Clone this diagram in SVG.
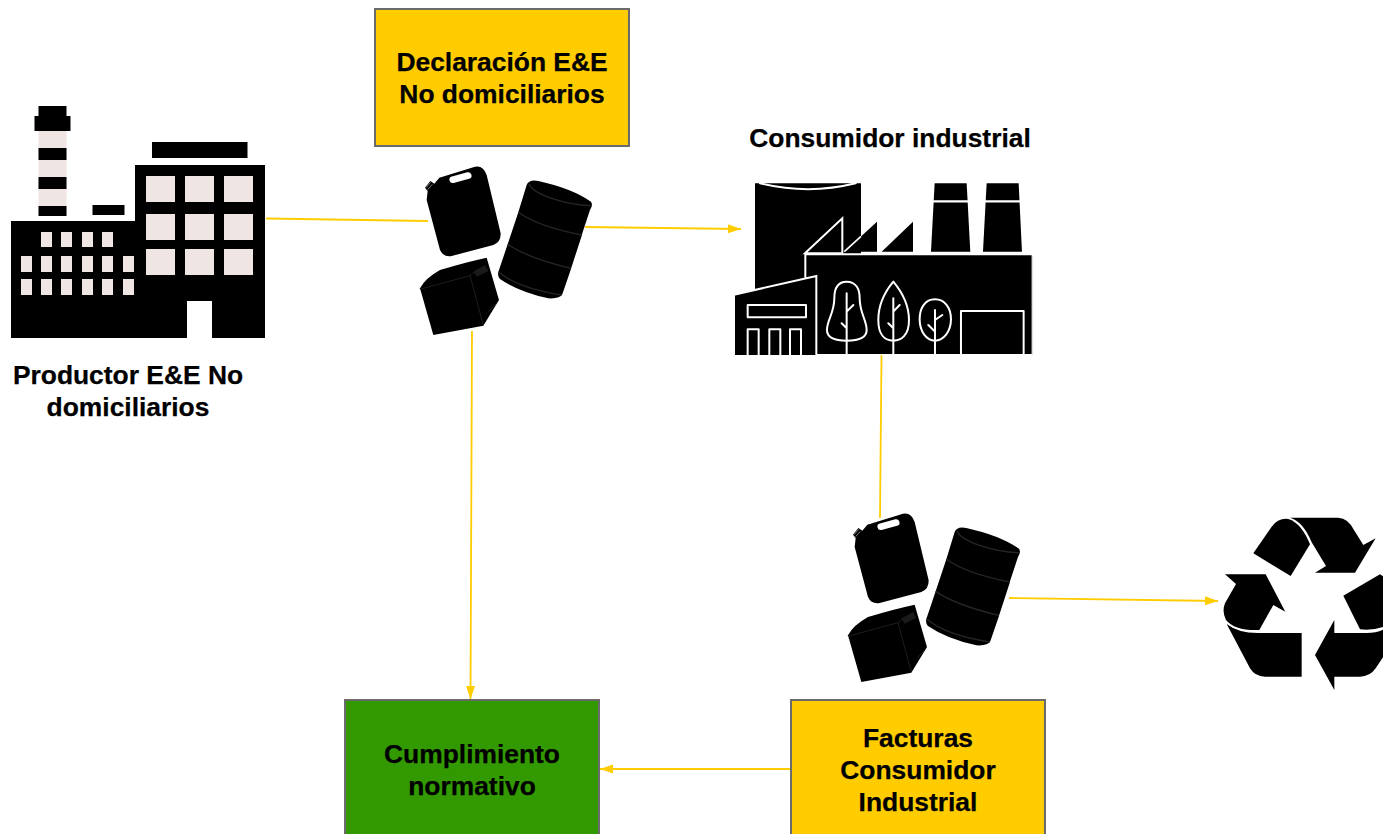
<svg xmlns="http://www.w3.org/2000/svg" width="1383" height="834" viewBox="0 0 1383 834">
<style>
.t{font-family:"Liberation Sans",Arial,sans-serif;font-weight:700;font-size:26.4px;fill:#000;stroke:#000;stroke-width:.25;text-anchor:middle}
.box{stroke:#6b6b6b;stroke-width:2}
.y{fill:#ffcc00}
.win{fill:#efe6e3}
.c{fill:none;stroke:#ffcc00;stroke-width:1.8}
.ln{fill:none;stroke:#fff;stroke-width:6;stroke-linecap:round;stroke-linejoin:round}
.sh{fill:none;stroke:#262626;stroke-width:4}
.fine{fill:none;stroke:#1e1e1e;stroke-width:3}
</style>
<defs>
<marker id="a" markerUnits="userSpaceOnUse" markerWidth="13" markerHeight="10" refX="13" refY="5" orient="auto"><path d="M0 0.500L13 5L0 9.500Z" fill="#ffcc00"/></marker>
<clipPath id="fc"><rect x="0" y="0" width="940" height="555"/></clipPath>
<g id="drums">
<path d="M103 68L210 35Q235 30 245 60L287 235Q288 262 265 270L140 303Q115 307 105 285L65 135L68 108L60 98L76 78L88 86Z" fill="#000"/>
<path d="M63 98L77 82M68 104L82 88" fill="none" stroke="#777" stroke-width="3"/>
<rect x="0" y="0" width="68" height="20" rx="10" fill="#fff" transform="translate(131 67) rotate(-15)"/>
<path d="M365 90Q372 72 400 78Q500 100 558 140Q565 150 555 165L532 235L530 243L500 335L497 345L472 418Q465 432 430 430Q340 410 285 372Q275 360 282 345L308 268L340 172Z" fill="#000"/>
<path class="sh" d="M372 88Q385 112 440 130Q500 150 556 152M340 172Q400 215 530 240M308 268Q370 310 498 340M282 352Q340 400 470 420"/>
<path d="M45 400Q60 370 105 345Q180 322 245 308L282 435L235 512L85 540Z" fill="#000"/>
<path class="fine" d="M48 402L195 362L235 510M195 362L215 345M250 470L275 445"/>
<path d="M205 350L240 330L250 348L215 365Z" fill="#1a1a1a"/>
</g>
</defs>
<rect width="1383" height="834" fill="#fff"/>
<g id="connectors">
<path class="c" d="M266 218.500L428 221"/>
<path class="c" d="M585 227L741 229" marker-end="url(#a)"/>
<path class="c" d="M472 331L470.500 699" marker-end="url(#a)"/>
<path class="c" d="M881.500 355L880 518"/>
<path class="c" d="M1009 598L1218 601" marker-end="url(#a)"/>
<path class="c" d="M791 769L600 769" marker-end="url(#a)"/>
</g>
<g id="productor">
<path d="M11 338V221H135V165H265V338H212V301H187V338Z" fill="#000"/>
<rect x="152" y="142" width="95.500" height="16"/>
<rect x="92.500" y="205" width="32" height="10"/>
<rect x="38.500" y="106" width="28" height="11"/>
<rect x="34.500" y="116" width="36" height="15"/>
<rect class="win" x="38.500" y="131" width="28" height="85"/>
<rect x="38.500" y="148" width="28" height="12"/><rect x="38.500" y="177" width="28" height="12"/><rect x="38.500" y="206" width="28" height="10"/>
<g class="win">
<rect x="146" y="176" width="29" height="26"/><rect x="185" y="176" width="29" height="26"/><rect x="224" y="176" width="29" height="26"/>
<rect x="146" y="214" width="29" height="26"/><rect x="185" y="214" width="29" height="26"/><rect x="224" y="214" width="29" height="26"/>
<rect x="146" y="249" width="29" height="26"/><rect x="185" y="249" width="29" height="26"/><rect x="224" y="249" width="29" height="26"/>
<rect x="41" y="232" width="11" height="15"/><rect x="61" y="232" width="11" height="15"/><rect x="82" y="232" width="11" height="15"/><rect x="102" y="232" width="11" height="15"/>
<rect x="21" y="256" width="11" height="16"/><rect x="41" y="256" width="11" height="16"/><rect x="61" y="256" width="11" height="16"/><rect x="82" y="256" width="11" height="16"/><rect x="102" y="256" width="11" height="16"/><rect x="123" y="256" width="11" height="16"/>
<rect x="21" y="279" width="11" height="16"/><rect x="41" y="279" width="11" height="16"/><rect x="61" y="279" width="11" height="16"/><rect x="82" y="279" width="11" height="16"/><rect x="102" y="279" width="11" height="16"/><rect x="123" y="279" width="11" height="16"/>
</g>
<text class="t" x="128" y="384">Productor E&amp;E No</text>
<text class="t" x="128" y="416">domiciliarios</text>
</g>
<g id="declaracion">
<rect class="box y" x="375" y="9" width="254" height="137"/>
<text class="t" x="502" y="71">Declaración E&amp;E</text>
<text class="t" x="502" y="103">No domiciliarios</text>
</g>
<g id="envases1"><use href="#drums" transform="translate(405 155) scale(.3333)"/></g>
<g id="consumidor">
<text class="t" x="890" y="147">Consumidor industrial</text>
<g transform="translate(725 170) scale(.3333)" clip-path="url(#fc)">
<path d="M90 40H408V360H90Z"/>
<path class="ln" d="M105 40Q250 75 392 40"/>
<path d="M358 245L456 155V245Z"/>
<path d="M358 245L408 199" stroke="#fff" stroke-width="5"/>
<path d="M240 250L352 145V250Z" stroke="#fff" stroke-width="6"/>
<path d="M470 245L564 155V245Z"/>
<path d="M629 40H725L736 245H618Z"/>
<path d="M785 40H881L891 245H774Z"/>
<path d="M620 94H732M776 94H888" stroke="#fff" stroke-width="7"/>
<path d="M241 253H923V555H241Z" stroke="#fff" stroke-width="6"/>
<path d="M923 257V555" stroke="#ccc" stroke-width="2"/>
<path d="M27 374L274 318V600H27Z" stroke="#fff" stroke-width="6"/>
<rect x="68" y="405" width="175" height="37" class="ln"/>
<path class="ln" d="M68 600V478H101V600M133 600V478H166V600M195 600V478H228V600"/>
<path class="ln" d="M365 335C335 335 328 360 328 385C328 430 306 450 306 480C306 500 325 512 365 512C405 512 425 500 425 480C425 450 404 430 404 385C404 360 395 335 365 335ZM365 370V600M365 425L385 405M365 475L350 460"/>
<path class="ln" d="M505 335C480 365 460 400 460 450C460 495 480 512 505 512C530 512 552 495 552 450C552 400 530 365 505 335ZM505 385V600M505 425L524 405M505 475L490 460"/>
<path class="ln" d="M630 388C600 388 584 415 584 448C584 485 605 512 630 512C655 512 678 485 678 448C678 415 660 388 630 388ZM630 420V600M630 450L652 435M630 485L610 465"/>
<path class="ln" d="M708 600V423H896V600"/>
</g>
</g>
<g id="envases2"><use href="#drums" transform="translate(833 502) scale(.3333)"/></g>
<g id="reciclaje">
<g transform="translate(1210 505) scale(.3333)">
<path d="M130 145L185 65Q205 38 235 42Q275 55 300 118L242 213Z"/>
<path d="M240 38H385Q415 40 432 75L460 120L497 100L435 203H315L348 183L305 112Q280 50 240 38Z"/>
<path d="M45 208H167L226 320L190 300L148 375Q75 378 48 345Q35 320 45 295L78 237Z"/>
<path d="M50 357Q85 385 148 384H275V515H165Q135 515 120 490Z"/>
<path d="M400 272L510 208L530 220V362Q490 378 450 373Z"/>
<path d="M315 450L373 345V384H470Q505 384 530 368V440L497 490Q480 515 450 515H373V555Z"/>
</g>
</g>
<g id="cumplimiento">
<rect class="box" fill="#339900" x="345" y="700" width="254" height="140"/>
<text class="t" x="472" y="763">Cumplimiento</text>
<text class="t" x="472" y="795">normativo</text>
</g>
<g id="facturas">
<rect class="box y" x="791" y="700" width="254" height="140"/>
<text class="t" x="918" y="747">Facturas</text>
<text class="t" x="918" y="779">Consumidor</text>
<text class="t" x="918" y="811">Industrial</text>
</g>
</svg>
